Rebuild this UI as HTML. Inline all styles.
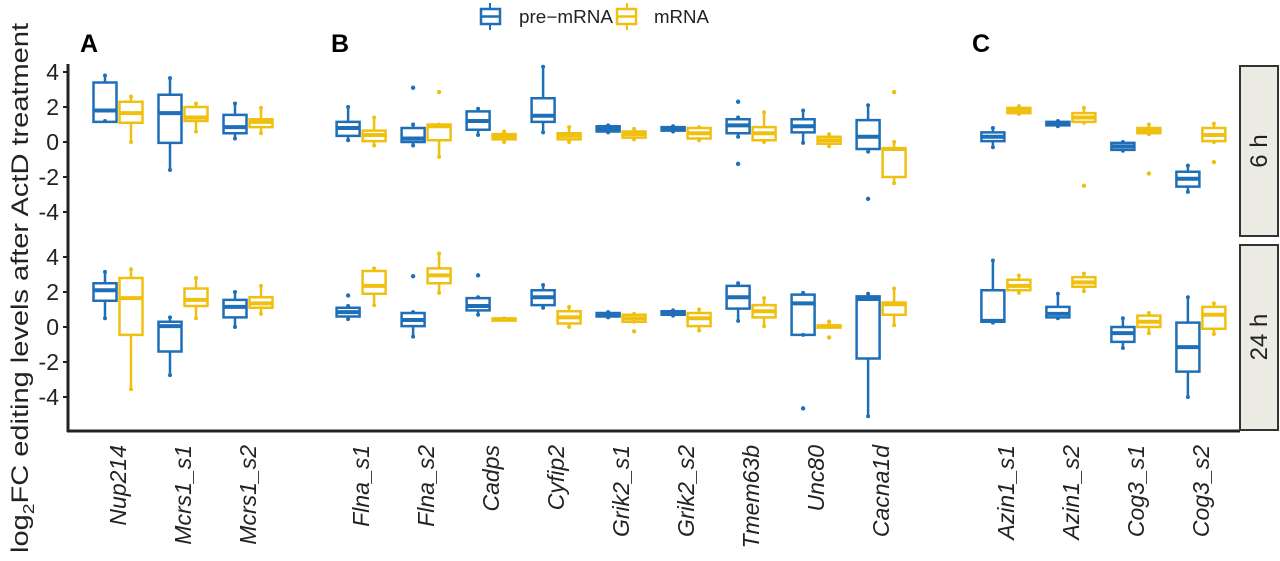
<!DOCTYPE html>
<html><head><meta charset="utf-8"><style>
html,body{margin:0;padding:0;background:#fff;}
svg{display:block;font-family:"Liberation Sans",sans-serif;}
</style></head><body>
<svg id="chart" width="1280" height="561" viewBox="0 0 1280 561">
<g>
  <g>
    <line x1="490" y1="3" x2="490" y2="30" stroke="#1f6fb8" stroke-width="2"/>
    <rect x="481" y="9" width="19" height="15" fill="#fff" stroke="#1f6fb8" stroke-width="2.5"/>
    <line x1="481" y1="16.5" x2="500" y2="16.5" stroke="#1f6fb8" stroke-width="2.5"/>
    <text x="519" y="23" font-size="18" fill="#222" textLength="94" lengthAdjust="spacingAndGlyphs">pre−mRNA</text>
  </g>
  <g>
    <line x1="627" y1="3" x2="627" y2="30" stroke="#f0c010" stroke-width="2"/>
    <rect x="617" y="9" width="19" height="15" fill="#fff" stroke="#f0c010" stroke-width="2.5"/>
    <line x1="617" y1="16.5" x2="636" y2="16.5" stroke="#f0c010" stroke-width="2.5"/>
    <text x="654" y="23" font-size="18" fill="#222" textLength="55" lengthAdjust="spacingAndGlyphs">mRNA</text>
  </g>
</g>
<text x="80" y="52" font-size="25" font-weight="bold">A</text>
<text x="331" y="52" font-size="25" font-weight="bold">B</text>
<text x="972" y="52" font-size="25" font-weight="bold">C</text>
<text transform="translate(28,288) rotate(-90)" text-anchor="middle" font-size="24" fill="#222" textLength="530" lengthAdjust="spacingAndGlyphs">log<tspan font-size="16" dy="6">2</tspan><tspan dy="-6">FC editing levels after ActD treatment</tspan></text>
<g id="axes"></g>
<g id="marks"></g>
<g>
  <rect x="1240" y="66" width="38" height="170" fill="#ecebe3" stroke="#333" stroke-width="2"/>
  <text transform="translate(1267,151) rotate(-90)" text-anchor="middle" font-size="24" fill="#222">6 h</text>
</g>
<g>
  <rect x="1240" y="245" width="38" height="185" fill="#ecebe3" stroke="#333" stroke-width="2"/>
  <text transform="translate(1267,337) rotate(-90)" text-anchor="middle" font-size="24" fill="#222">24 h</text>
</g>
</svg>
<script>
const genes = ["Nup214","Mcrs1_s1","Mcrs1_s2","Flna_s1","Flna_s2","Cadps","Cyfip2","Grik2_s1","Grik2_s2","Tmem63b","Unc80","Cacna1d","Azin1_s1","Azin1_s2","Cog3_s1","Cog3_s2"];
const groupIndex = [0,1,2,3.74,4.74,5.74,6.74,7.74,8.74,9.74,10.74,11.74,13.66,14.66,15.66,16.66];
const yTicks = [4,2,0,-2,-4];
// [low whisker, q1, median, q3, high whisker]
const pre6h = [[1.2,1.15,1.8,3.4,3.8],[-1.6,-0.05,1.65,2.7,3.65],[0.2,0.5,0.85,1.55,2.2],[0.1,0.35,0.8,1.15,2.0],[-0.2,0,0.2,0.8,1.0],[0.4,0.7,1.2,1.75,1.9],[0.55,1.15,1.5,2.5,4.3],[0.55,0.6,0.75,0.9,0.95],[0.6,0.65,0.75,0.85,0.9],[0.3,0.5,0.95,1.3,1.4],[-0.05,0.55,0.9,1.3,1.8],[-0.55,-0.4,0.3,1.25,2.1],[-0.3,0.05,0.3,0.55,0.8],[0.9,0.95,1.05,1.15,1.2],[-0.5,-0.45,-0.25,-0.05,0],[-2.85,-2.55,-2.1,-1.7,-1.35]];
const m6h = [[0,1.1,1.65,2.3,2.6],[0.6,1.2,1.4,2.0,2.2],[0.5,0.85,1.15,1.3,1.95],[-0.2,0.05,0.4,0.65,1.4],[-0.85,0.1,0.9,1.0,1.0],[0,0.15,0.3,0.45,0.6],[0,0.15,0.35,0.5,0.85],[0.15,0.25,0.45,0.6,0.75],[0.1,0.2,0.5,0.8,0.85],[0,0.1,0.5,0.85,1.7],[-0.25,-0.1,0.1,0.3,0.45],[-2.35,-2.0,-0.4,-0.35,0],[1.6,1.65,1.8,1.95,2.05],[1.1,1.15,1.4,1.65,1.95],[0.45,0.5,0.65,0.8,1.0],[0,0.05,0.4,0.8,1.05]];
const pre24h = [[0.5,1.5,2.1,2.5,3.15],[-2.75,-1.4,0.05,0.3,0.55],[0,0.55,1.15,1.55,2.0],[0.45,0.6,0.85,1.1,1.2],[-0.55,0.05,0.4,0.8,0.85],[0.7,0.95,1.2,1.65,1.7],[1.1,1.25,1.7,2.1,2.4],[0.55,0.6,0.7,0.8,0.85],[0.65,0.7,0.8,0.9,0.95],[0.35,1.05,1.7,2.35,2.5],[-0.45,-0.45,1.35,1.85,1.95],[-5.1,-1.8,1.6,1.75,1.9],[0.25,0.3,0.35,2.1,3.8],[0.5,0.55,0.75,1.15,1.9],[-1.2,-0.85,-0.35,0,0.5],[-4.0,-2.55,-1.15,0.25,1.7]];
const m24h = [[-3.55,-0.45,1.65,2.8,3.3],[0.5,1.2,1.55,2.2,2.8],[0.75,1.1,1.35,1.7,2.35],[1.25,1.9,2.35,3.2,3.35],[1.95,2.5,2.95,3.35,4.2],[0.4,0.42,0.45,0.48,0.5],[0,0.2,0.55,0.9,1.15],[0.3,0.3,0.5,0.7,0.75],[-0.2,0.05,0.5,0.8,1.0],[0.05,0.55,0.9,1.25,1.65],[0,0.02,0.05,0.08,0.1],[0.1,0.7,1.3,1.4,2.2],[1.95,2.1,2.35,2.7,2.95],[2.05,2.3,2.55,2.85,3.05],[-0.35,0,0.3,0.65,0.8],[-0.4,-0.1,0.7,1.15,1.35]];
const pre6hOut = [[],[],[],[],[3.1],[],[],[],[],[2.3,-1.25],[],[-3.25],[],[],[],[]];
const m6hOut = [[],[],[],[],[2.85],[],[],[],[],[],[],[2.85],[],[-2.5],[-1.8],[-1.15]];
const pre24hOut = [[],[],[],[1.8],[2.9],[2.95],[],[],[],[],[-4.65],[],[],[],[],[]];
const m24hOut = [[],[],[],[],[],[],[],[-0.25],[],[],[0.3,-0.6],[],[],[],[],[]];

const NS="http://www.w3.org/2000/svg";
const BLUE="#1f6fb8", YEL="#f0c010";
const panels=[{base:142},{base:327}];
function yScale(p,v){return panels[p].base - v*17.5;}
function xScale(i){return 118 + groupIndex[i]*65;}
function mk(tag,attrs,parent){const e=document.createElementNS(NS,tag);for(const k in attrs)e.setAttribute(k,attrs[k]);parent.appendChild(e);return e;}
const axes=document.getElementById('axes'), marks=document.getElementById('marks');
mk('line',{x1:68,y1:64,x2:68,y2:432,stroke:'#222','stroke-width':3},axes);
mk('line',{x1:67,y1:431,x2:1240,y2:431,stroke:'#222','stroke-width':3},axes);
for(let p=0;p<2;p++){
  for(const t of yTicks){
    const y=yScale(p,t);
    mk('line',{x1:63,y1:y,x2:68,y2:y,stroke:'#222','stroke-width':2},axes);
    const tx=mk('text',{x:59,y:y+8,'text-anchor':'end','font-size':23,fill:'#222'},axes);
    tx.textContent=t<0?'-'+Math.abs(t):String(t);
    
    
  }
}
genes.forEach((g,i)=>{
  const tx=mk('text',{transform:`translate(${xScale(i)+8},445) rotate(-90)`,'text-anchor':'end','font-size':23,'font-style':'italic',fill:'#222'},axes);
  tx.textContent=g;
  
  
});
function box(p,cx,d,outs,col,name){
  const g=mk('g',{},marks);
  
  
  const w=23,[lo,q1,md,q3,hi]=d;
  mk('line',{x1:cx,y1:yScale(p,hi),x2:cx,y2:yScale(p,q3),stroke:col,'stroke-width':2.5},g);
  mk('line',{x1:cx,y1:yScale(p,q1),x2:cx,y2:yScale(p,lo),stroke:col,'stroke-width':2.5},g);
  const yt=yScale(p,q3),yb=yScale(p,q1);
  mk('rect',{x:cx-w/2,y:yt,width:w,height:Math.max(yb-yt,2),fill:'#fff',stroke:col,'stroke-width':2.5},g);
  mk('line',{x1:cx-w/2,y1:yScale(p,md),x2:cx+w/2,y2:yScale(p,md),stroke:col,'stroke-width':4},g);
  mk('circle',{cx:cx,cy:yScale(p,hi),r:2,fill:col},g);
  mk('circle',{cx:cx,cy:yScale(p,lo),r:2,fill:col},g);
  for(const o of outs) mk('circle',{cx:cx,cy:yScale(p,o),r:2.2,fill:col},g);
}
genes.forEach((g,i)=>{
  const c=xScale(i);
  box(0,c-13,pre6h[i],pre6hOut[i],BLUE,'box-pre-mrna-6h-'+g.toLowerCase());
  box(0,c+13,m6h[i],m6hOut[i],YEL,'box-mrna-6h-'+g.toLowerCase());
  box(1,c-13,pre24h[i],pre24hOut[i],BLUE,'box-pre-mrna-24h-'+g.toLowerCase());
  box(1,c+13,m24h[i],m24hOut[i],YEL,'box-mrna-24h-'+g.toLowerCase());
});
</script>
</body></html>
